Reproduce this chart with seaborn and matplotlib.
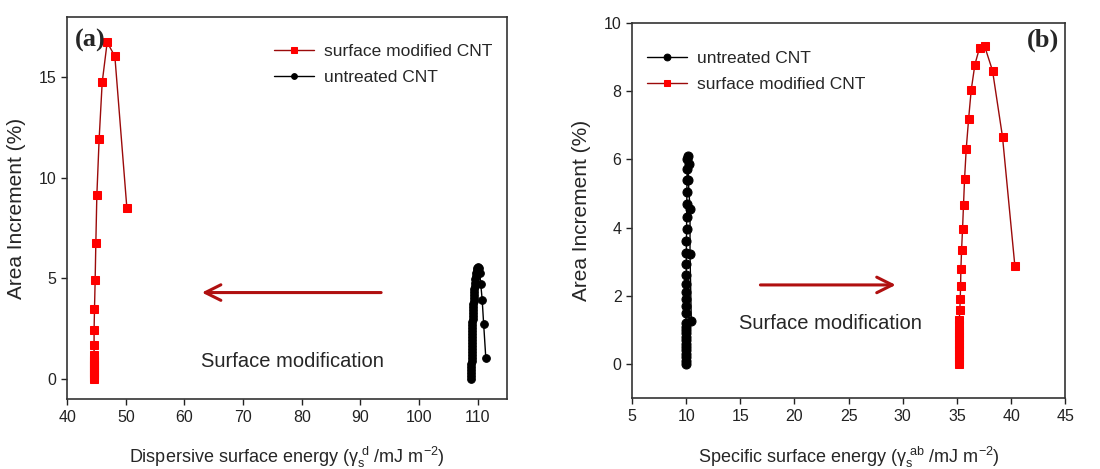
import matplotlib
matplotlib.use('Agg')
import matplotlib.pyplot as plt
import seaborn as sns
import numpy as np

# ---------- data (a): dispersive surface energy ----------
a_mod_x = [44.55, 44.55, 44.55, 44.55, 44.55, 44.55, 44.55, 44.55, 44.55, 44.55, 44.55, 44.6,
           44.6, 44.6, 44.67, 44.78, 44.9, 45.07, 45.46, 45.98, 46.83, 48.14, 50.19]
a_mod_y = [0.0, 0.1, 0.2, 0.3, 0.4, 0.5, 0.6, 0.7, 0.8, 0.9, 1.0, 1.17,
           1.7, 2.45, 3.48, 4.9, 6.78, 9.13, 11.93, 14.75, 16.75, 16.05, 8.5]

a_unt_x = [108.9, 108.9, 108.9, 108.91, 108.92, 108.93, 108.94, 108.95, 108.96, 108.97,
           108.98, 108.99, 109.0, 109.01, 109.02, 109.03, 109.05, 109.06, 109.08, 109.1,
           109.12, 109.14, 109.16, 109.19, 109.22, 109.25, 109.28, 109.31, 109.35, 109.39,
           109.43, 109.48, 109.53, 109.58, 109.65, 109.72, 109.8, 109.9, 110.0,
           110.2, 110.35, 110.5, 110.75, 111.0, 111.37]
a_unt_y = [0.0, 0.15, 0.3, 0.45, 0.6, 0.75, 0.9, 1.05, 1.2, 1.35,
           1.5, 1.65, 1.8, 1.95, 2.1, 2.25, 2.4, 2.55, 2.7, 2.85,
           3.0, 3.15, 3.3, 3.45, 3.6, 3.75, 3.9, 4.05, 4.2, 4.35,
           4.5, 4.65, 4.8, 4.95, 5.1, 5.25, 5.4, 5.5, 5.58,
           5.5, 5.25, 4.75, 3.95, 2.75, 1.05]

# ---------- data (b): specific surface energy ----------
b_unt_x = [9.98, 9.98, 9.98, 9.98, 9.98, 9.98, 9.98, 9.98, 9.98, 9.98, 9.98, 9.98, 9.98,
           9.99, 9.99, 10.0, 10.0, 10.0, 10.01, 10.02, 10.02, 10.03, 10.04, 10.05, 10.06,
           10.07, 10.08, 10.1, 10.12, 10.14,
           10.23, 10.2, 10.36, 10.36, 10.48]
b_unt_y = [0.0, 0.1, 0.2, 0.3, 0.4, 0.5, 0.6, 0.7, 0.8, 0.9, 1.0, 1.1, 1.2,
           1.5, 1.7, 1.9, 2.1, 2.35, 2.62, 2.93, 3.25, 3.6, 3.95, 4.32, 4.7,
           5.05, 5.4, 5.72, 6.0, 6.1,
           5.88, 5.4, 4.54, 3.22, 1.27]

b_mod_x = [35.17, 35.17, 35.17, 35.17, 35.17, 35.17, 35.17, 35.17, 35.18, 35.18, 35.19, 35.2,
           35.21, 35.26, 35.3, 35.33, 35.36, 35.42, 35.51, 35.6, 35.7, 35.85, 36.07,
           36.31, 36.65, 37.08, 37.54, 38.28, 39.2, 40.34]
b_mod_y = [0.0, 0.1, 0.2, 0.3, 0.4, 0.5, 0.6, 0.7, 0.8, 0.9, 1.0, 1.15,
           1.3, 1.59, 1.92, 2.3, 2.79, 3.33, 3.95, 4.66, 5.44, 6.3, 7.18,
           8.03, 8.78, 9.27, 9.33, 8.6, 6.66, 2.88]

RED = '#ff0000'
LINE_RED = '#9b0a0a'
ARROW_RED = '#b01010'

sns.set_theme(style='ticks')
plt.rcParams['font.family'] = ['Liberation Sans', 'DejaVu Sans']
plt.rcParams['mathtext.fontset'] = 'custom'
plt.rcParams['mathtext.rm'] = 'Liberation Sans'
plt.rcParams['mathtext.it'] = 'Liberation Sans'

fig = plt.figure(figsize=(11, 4.69), dpi=100)
ax1 = fig.add_axes([0.061, 0.149, 0.40, 0.8145])
ax2 = fig.add_axes([0.5745, 0.151, 0.394, 0.80])


def draw(ax, x, y, marker, mfc, lc, ms, label):
    sns.lineplot(x=x, y=y, sort=False, estimator=None, ax=ax, color=lc, lw=1.0,
                 marker=marker, markersize=ms, markerfacecolor=mfc,
                 markeredgecolor=mfc, label=label)


# ---------- panel (a) ----------
draw(ax1, a_mod_x, a_mod_y, 's', RED, LINE_RED, 6, 'surface modified CNT')
draw(ax1, a_unt_x, a_unt_y, 'o', 'black', 'black', 5.5, 'untreated CNT')
ax1.set_xlim(40, 115)
ax1.set_ylim(-1, 18)
ax1.set_xticks(np.arange(40, 111, 10))
ax1.set_yticks([0, 5, 10, 15])
ax1.set_xlabel(r'Dispersive surface energy ($\gamma_s^{\ d}$ /mJ m$^{-2}$)', fontsize=13, labelpad=15)
ax1.set_ylabel('Area Increment (%)', fontsize=15, labelpad=9)
ax1.legend(loc='upper left', bbox_to_anchor=(0.47, 0.93), frameon=False, fontsize=12.5,
           handlelength=2.3, handletextpad=0.6, borderpad=0, borderaxespad=0,
           labelspacing=0.6, markerscale=0.75)
ax1.text(0.018, 0.97, '(a)', transform=ax1.transAxes, ha='left', va='top',
         fontsize=19, fontweight='bold', family='Liberation Serif')
ax1.annotate('', xy=(62.5, 4.3), xytext=(94, 4.3),
             arrowprops=dict(arrowstyle='->', color=ARROW_RED, lw=2.2, mutation_scale=28))
ax1.text(78.4, 0.85, 'Surface modification', ha='center', va='center', fontsize=14.5)

# ---------- panel (b) ----------
draw(ax2, b_unt_x, b_unt_y, 'o', 'black', 'black', 6.5, 'untreated CNT')
draw(ax2, b_mod_x, b_mod_y, 's', RED, LINE_RED, 6, 'surface modified CNT')
ax2.set_xlim(5, 45)
ax2.set_ylim(-1, 10)
ax2.set_xticks(np.arange(5, 46, 5))
ax2.set_yticks([0, 2, 4, 6, 8, 10])
ax2.set_xlabel(r'Specific surface energy ($\gamma_s^{\ ab}$ /mJ m$^{-2}$)', fontsize=13, labelpad=15)
ax2.set_ylabel('Area Increment (%)', fontsize=15, labelpad=9)
ax2.legend(loc='upper left', bbox_to_anchor=(0.035, 0.925), frameon=False, fontsize=12.5,
           handlelength=2.3, handletextpad=0.6, borderpad=0, borderaxespad=0,
           labelspacing=0.6, markerscale=0.75)
ax2.text(0.985, 0.985, '(b)', transform=ax2.transAxes, ha='right', va='top',
         fontsize=19, fontweight='bold', family='Liberation Serif')
ax2.annotate('', xy=(29.6, 2.32), xytext=(16.6, 2.32),
             arrowprops=dict(arrowstyle='->', color=ARROW_RED, lw=2.2, mutation_scale=28))
ax2.text(23.35, 1.2, 'Surface modification', ha='center', va='center', fontsize=14.5)

for ax in (ax1, ax2):
    for s in ax.spines.values():
        s.set_visible(True)
        s.set_linewidth(1.2)
        s.set_color('#333333')
    ax.tick_params(direction='out', length=4, width=1, labelsize=11.5, colors='#222222')
    ax.tick_params(top=False, right=False)

fig.savefig('out.png', dpi=100)
